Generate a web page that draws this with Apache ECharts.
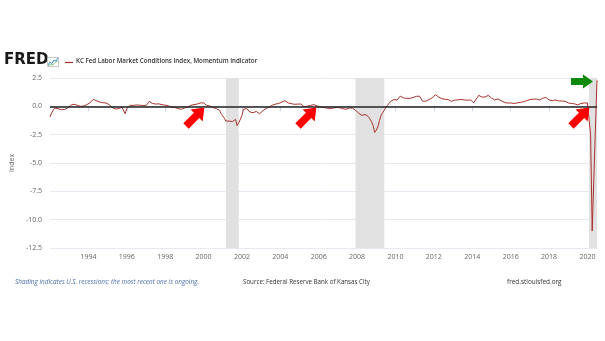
<!DOCTYPE html>
<html><head><meta charset="utf-8">
<script src="https://cdn.jsdelivr.net/npm/echarts@6/dist/echarts.min.js"></script>
<style>html,body{margin:0;padding:0;background:#fff}#c{width:605px;height:341px}</style>
</head><body><div id="c"></div>
<script>
// Monthly values, Jan..Dec for each year, starting 1992
var startYear = 1992;
var values = {
1992: [-0.94, -0.6, -0.35, -0.15, -0.06, -0.2, -0.35, -0.3, -0.26, -0.28, -0.2, -0.15],
1993: [-0.05, 0.1, 0.05, 0.18, 0.12, 0.1, -0.06, 0.0, 0.05, 0.03, 0.1, 0.15],
1994: [0.2, 0.3, 0.44, 0.62, 0.55, 0.5, 0.45, 0.38, 0.3, 0.32, 0.34, 0.3],
1995: [0.23, 0.15, 0.03, -0.1, -0.2, -0.24, -0.26, -0.2, -0.15, -0.08, -0.06, -0.65],
1996: [-0.2, -0.05, 0.09, 0.05, 0.08, 0.15, 0.12, 0.18, 0.1, 0.06, 0.08, 0.05],
1997: [0.05, 0.25, 0.44, 0.3, 0.26, 0.22, 0.2, 0.2, 0.22, 0.2, 0.15, 0.18],
1998: [0.1, 0.09, 0.05, -0.06, -0.08, -0.12, -0.1, -0.15, -0.2, -0.22, -0.26, -0.22],
1999: [-0.15, -0.1, -0.06, 0.0, 0.09, 0.1, 0.15, 0.18, 0.2, 0.23, 0.3, 0.47],
2000: [0.3, 0.15, 0.09, 0.05, 0.03, -0.05, -0.12, -0.15, -0.2, -0.25, -0.35, -0.65],
2001: [-0.85, -1.05, -1.3, -1.38, -1.3, -1.24, -1.35, -1.38, -1.15, -1.7, -1.45, -1.15],
2002: [-0.8, -0.26, -0.22, -0.2, -0.35, -0.5, -0.45, -0.56, -0.5, -0.45, -0.5, -0.65],
2003: [-0.8, -0.4, -0.56, -0.2, -0.1, -0.06, 0.03, 0.1, 0.23, 0.2, 0.23, 0.25],
2004: [0.3, 0.38, 0.45, 0.5, 0.42, 0.3, 0.28, 0.23, 0.2, 0.18, 0.15, 0.2],
2005: [0.23, 0.2, 0.15, -0.06, 0.0, 0.03, 0.05, 0.09, 0.12, 0.15, 0.05, 0.03],
2006: [0.0, -0.03, -0.06, -0.1, -0.12, -0.15, -0.18, -0.2, -0.2, -0.15, -0.12, -0.1],
2007: [-0.15, -0.12, -0.18, -0.2, -0.22, -0.26, -0.2, -0.15, -0.12, -0.15, -0.2, -0.35],
2008: [-0.45, -0.6, -0.7, -0.8, -0.75, -0.72, -0.65, -0.9, -1.1, -1.35, -1.7, -2.3],
2009: [-2.1, -1.8, -1.25, -0.8, -0.55, -0.35, -0.1, 0.09, 0.25, 0.44, 0.5, 0.6],
2010: [0.62, 0.55, 0.6, 0.9, 0.78, 0.74, 0.68, 0.7, 0.68, 0.7, 0.74, 0.78],
2011: [0.82, 0.88, 0.97, 0.9, 0.82, 0.45, 0.38, 0.45, 0.53, 0.6, 0.68, 0.75],
2012: [0.85, 1.03, 0.9, 0.82, 0.75, 0.68, 0.65, 0.62, 0.62, 0.6, 0.55, 0.44],
2013: [0.59, 0.55, 0.53, 0.57, 0.59, 0.6, 0.59, 0.56, 0.53, 0.55, 0.59, 0.55],
2014: [0.4, 0.32, 0.55, 0.74, 0.97, 0.88, 0.82, 0.8, 0.82, 0.9, 0.97, 0.85],
2015: [0.74, 0.6, 0.56, 0.6, 0.65, 0.58, 0.5, 0.42, 0.35, 0.3, 0.29, 0.44],
2016: [0.3, 0.2, 0.25, 0.29, 0.3, 0.32, 0.35, 0.38, 0.4, 0.44, 0.5, 0.56],
2017: [0.6, 0.65, 0.63, 0.65, 0.65, 0.6, 0.56, 0.62, 0.71, 0.75, 0.79, 0.7],
2018: [0.56, 0.52, 0.5, 0.53, 0.56, 0.52, 0.48, 0.44, 0.47, 0.5, 0.45, 0.35],
2019: [0.3, 0.26, 0.25, 0.26, 0.22, 0.2, 0.12, 0.18, 0.26, 0.27, 0.29, 0.3],
2020: [0.3, 0.3, -2.5, -11.0, -6.5, -2.0, 2.3]
};
// Recessions (decimal years, start/end)
var recessions = [[2001.167, 2001.833], [2007.917, 2009.417], [2020.083, 2020.5]];
var yTicks = [-12.5, -10, -7.5, -5, -2.5, 0, 2.5];
var xTickYears = [1992, 1994, 1996, 1998, 2000, 2002, 2004, 2006, 2008, 2010, 2012, 2014, 2016, 2018, 2020];

var seriesData = [];
Object.keys(values).forEach(function (y) {
  values[y].forEach(function (v, m) { seriesData.push([Number(y) + m / 12, v]); });
});

var chart = echarts.init(document.getElementById('c'), null, {renderer: 'canvas'});
var font = '"Open Sans", "Liberation Sans", sans-serif';

function blockArrow(x, y, rot, color, len, shaftHalf, headLen, headHalf) {
  var s = len - headLen;
  return {
    type: 'polygon', x: x, y: y, rotation: rot, z: 100,
    shape: {points: [[0, -shaftHalf], [s, -shaftHalf], [s, -headHalf], [len, 0], [s, headHalf], [s, shaftHalf], [0, shaftHalf]]},
    style: {fill: color}
  };
}

chart.setOption({
  animation: false,
  grid: {left: 45, right: 8, top: 78, bottom: 93, containLabel: false},
  xAxis: {
    type: 'value', min: 1992, max: 2020.5, interval: 2,
    axisLine: {show: true, lineStyle: {color: '#ccd6eb', width: 1}},
    axisTick: {show: true, length: 5, lineStyle: {color: '#ccd6eb'}},
    splitLine: {show: false},
    axisLabel: {
      color: '#666', fontSize: 7, fontFamily: font, margin: 5,
      showMinLabel: false, showMaxLabel: false,
      formatter: function (v) { return xTickYears.indexOf(Math.round(v)) >= 0 ? String(Math.round(v)) : ''; }
    }
  },
  yAxis: {
    type: 'value', min: -12.5, max: 2.5, interval: 2.5,
    name: 'Index', nameLocation: 'middle', nameGap: 31, nameRotate: 90,
    nameTextStyle: {color: '#666', fontSize: 7, fontFamily: font},
    axisLine: {show: false}, axisTick: {show: false},
    axisLabel: {color: '#666', fontSize: 7, fontFamily: font, margin: 8,
      formatter: function (v) { return v.toFixed(1); }},
    splitLine: {lineStyle: {color: '#e6e9ef', width: 1}}
  },
  series: [{
    type: 'line', data: seriesData, showSymbol: false, symbol: 'none',
    lineStyle: {color: '#a8322c', width: 1},
    markArea: {silent: true, itemStyle: {color: '#e1e1e1'},
      data: recessions.map(function (r) { return [{xAxis: r[0]}, {xAxis: r[1]}]; })},
    markLine: {silent: true, symbol: 'none', label: {show: false},
      lineStyle: {color: '#222', width: 1.6, type: 'solid'},
      data: [{yAxis: 0}]}
  }],
  graphic: [
    {type: 'text', left: 4, top: 53, style: {text: 'FRED', font: 'bold 15px "DejaVu Sans", sans-serif', fill: '#1a1a1a'}},
    {type: 'rect', shape: {x: 47.5, y: 57.5, width: 11, height: 9}, style: {fill: '#fff', stroke: '#bbb', lineWidth: 0.8}},
    {type: 'polyline', shape: {points: [[48, 65], [50, 62], [52, 63.5], [54, 60], [56, 61], [58, 58]]}, style: {stroke: '#3a8fc8', lineWidth: 1, fill: null}},
    {type: 'polyline', shape: {points: [[48, 66], [51, 64.5], [53, 65], [55, 62.5], [58, 61]]}, style: {stroke: '#6bb36b', lineWidth: 0.8, fill: null}},
    {type: 'line', shape: {x1: 65, y1: 62.5, x2: 73, y2: 62.5}, style: {stroke: '#a8322c', lineWidth: 1.2}},
    {type: 'text', left: 76, top: 58.5, style: {text: 'KC Fed Labor Market Conditions Index, Momentum Indicator', font: '600 6.2px "Open Sans", sans-serif', fill: '#333'}},
    {type: 'text', left: 15, top: 279.5, style: {text: 'Shading indicates U.S. recessions; the most recent one is ongoing.', font: 'italic 6.4px "Open Sans", sans-serif', fill: '#4a6ea8'}},
    {type: 'text', left: 243, top: 279.5, style: {text: 'Source: Federal Reserve Bank of Kansas City', font: '6.2px "Open Sans", sans-serif', fill: '#333'}},
    {type: 'text', left: 507, top: 279.5, style: {text: 'fred.stlouisfed.org', font: '6.4px "Open Sans", sans-serif', fill: '#333'}},
    blockArrow(186, 126, Math.PI / 4, '#ff0000', 26, 3.8, 11, 8.5),
    blockArrow(298, 126, Math.PI / 4, '#ff0000', 26, 3.8, 11, 8.5),
    blockArrow(571, 126, Math.PI / 4, '#ff0000', 26, 3.8, 11, 8.5),
    blockArrow(571, 81.5, 0, '#0b8a0b', 22, 3.5, 10, 7)
  ]
});
</script></body></html>
